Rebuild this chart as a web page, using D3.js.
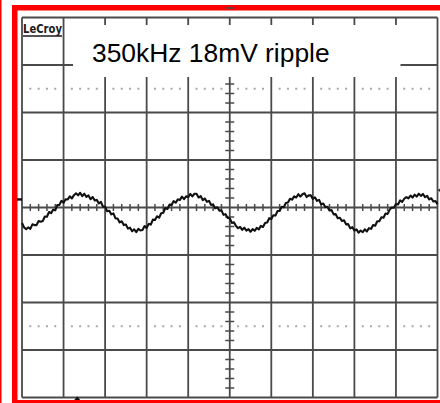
<!DOCTYPE html>
<html>
<head>
<meta charset="utf-8">
<script src="https://cdn.jsdelivr.net/npm/d3@7"></script>
<style>
  html, body { margin: 0; padding: 0; background: #fff; }
  svg { display: block; }
</style>
</head>
<body>
<svg id="scope" width="440" height="403"></svg>
<script>
// Timebase: 1 µs/div over 10 divisions; vertical: 20 mV/div over 8 divisions.
const timeDivs = [0, 1, 2, 3, 4, 5, 6, 7, 8, 9, 10];          // µs
const voltDivs = [-80, -60, -40, -20, 0, 20, 40, 60, 80];      // mV
const dottedRows = [50, -50];                                   // mV
const titleText = "350kHz 18mV ripple";
const brandText = "LeCroy";

// Acquired ripple, one sample every 0.05 µs from 0 to 10 µs (mV).
const rippleStep = 0.05;
const rippleMv = [
  -6.5, -8.4, -9.1, -8.4, -9.0, -7.1, -7.4, -7.4, -5.7, -6.0,
  -5.7, -3.8, -3.9, -1.9, -2.4, -0.9, -1.2, 1.0, 1.1, 2.8,
  2.0, 3.5, 3.4, 4.7, 3.8, 5.2, 6.0, 5.1, 6.2, 4.8,
  5.8, 4.5, 5.1, 3.5, 4.4, 3.0, 3.2, 1.7, 2.4, 0.3,
  0.4, -1.6, -1.4, -2.9, -2.5, -4.6, -4.6, -6.3, -5.8, -7.4,
  -7.2, -8.9, -8.5, -10.0, -9.2, -10.4, -9.0, -9.7, -9.5, -7.8,
  -8.6, -6.9, -7.2, -5.1, -5.3, -3.7, -4.3, -2.4, -2.2, -0.2,
  -0.6, 1.2, 1.1, 2.7, 2.0, 3.4, 3.2, 4.6, 3.5, 4.7,
  4.4, 5.7, 4.7, 5.8, 5.8, 4.2, 4.8, 3.1, 3.8, 2.4,
  2.8, 1.1, 1.3, -0.3, 0.1, -1.3, -1.2, -3.1, -2.8, -4.4,
  -4.5, -6.5, -6.2, -7.8, -8.7, -8.2, -9.4, -8.5, -9.7, -9.1,
  -10.2, -9.1, -9.8, -8.6, -9.2, -7.7, -8.2, -6.5, -6.3, -4.5,
  -4.8, -3.3, -3.4, -1.5, -1.5, 0.3, 0.1, 1.9, 2.1, 3.7,
  3.3, 4.7, 4.2, 5.6, 4.6, 5.6, 6.0, 4.4, 5.1, 5.1,
  3.6, 4.3, 2.8, 3.2, 1.3, 1.7, 0.2, 0.3, -1.2, -1.1,
  -2.9, -2.8, -4.5, -4.3, -5.7, -5.4, -7.1, -7.0, -8.8, -8.3,
  -9.7, -9.2, -10.6, -9.7, -10.4, -9.2, -10.1, -8.7, -9.0, -7.4,
  -7.7, -5.8, -5.8, -4.1, -4.3, -2.5, -2.7, -0.9, 0.0, -0.1,
  1.5, 1.3, 3.0, 2.4, 3.7, 4.4, 3.8, 5.0, 4.2, 5.4,
  4.6, 5.8, 4.9, 5.7, 4.4, 4.9, 3.4, 3.9, 2.5, 2.7, 1.4
];

const svg = d3.select("#scope");
const W = 440, H = 403;
const plot = { left: 22, right: 437.5, top: 17.5, bottom: 397.5 };

const x = d3.scaleLinear().domain([timeDivs[0], timeDivs[timeDivs.length - 1]])
  .range([plot.left, plot.right]);
const y = d3.scaleLinear().domain([voltDivs[0], voltDivs[voltDivs.length - 1]])
  .range([plot.bottom, plot.top]);

const gridColor = "#4a4a4a";
const red = "#ff0000";

// Red frame around the screen capture
svg.append("rect").attr("x", 0).attr("y", 0).attr("width", 1.5).attr("height", H).attr("fill", red);
svg.append("rect").attr("x", 12).attr("y", 5).attr("width", 5.5).attr("height", H - 5).attr("fill", red);
svg.append("rect").attr("x", 12).attr("y", 5).attr("width", W - 12).attr("height", 5.5).attr("fill", red);
svg.append("rect").attr("x", 12).attr("y", 400).attr("width", W - 12).attr("height", 3).attr("fill", red);

const grid = svg.append("g");

// Division grid
grid.selectAll("line.v").data(timeDivs).join("line")
  .attr("x1", d => x(d)).attr("x2", d => x(d))
  .attr("y1", plot.top).attr("y2", plot.bottom)
  .attr("stroke", gridColor).attr("stroke-width", 1.8);
grid.selectAll("line.h").data(voltDivs).join("line")
  .attr("x1", plot.left).attr("x2", plot.right)
  .attr("y1", d => y(d)).attr("y2", d => y(d))
  .attr("stroke", gridColor).attr("stroke-width", 1.8);

// Minor subdivisions (5 per division)
const tMinor = d3.range(0, 50 + 1).map(i => i / 5).filter(t => Math.abs(t - Math.round(t)) > 1e-6);
const vMinor = d3.range(-40, 40 + 1).map(i => i * 4).filter(v => v % 20 !== 0);

// Dotted reference rows
dottedRows.forEach(v => {
  grid.selectAll(null).data(tMinor.filter(t => Math.abs(t - 5) > 1e-6)).join("rect")
    .attr("x", d => x(d) - 1).attr("y", y(v) - 1)
    .attr("width", 2).attr("height", 2)
    .attr("fill", "#a8a8a8");
});

// Tick marks along the centre axes
grid.selectAll(null).data(tMinor).join("line")
  .attr("x1", d => x(d)).attr("x2", d => x(d))
  .attr("y1", y(0) - 3.5).attr("y2", y(0) + 3.5)
  .attr("stroke", gridColor).attr("stroke-width", 1.5);
grid.selectAll(null).data(vMinor).join("line")
  .attr("x1", x(5) - 4.5).attr("x2", x(5) + 4.5)
  .attr("y1", d => y(d)).attr("y2", d => y(d))
  .attr("stroke", gridColor).attr("stroke-width", 1.5);

// Ripple trace
const line = d3.line()
  .x((d, i) => x(i * rippleStep))
  .y(d => y(d));
svg.append("path").datum(rippleMv)
  .attr("d", line)
  .attr("fill", "none")
  .attr("stroke", "#111")
  .attr("stroke-width", 2.1)
  .attr("stroke-linejoin", "round");

// Title panel
svg.append("rect").attr("x", 73).attr("y", 25).attr("width", 327.5).attr("height", 52).attr("fill", "#fff");
svg.append("text").attr("x", 92).attr("y", 62)
  .attr("font-family", "Liberation Sans, Arial, sans-serif")
  .attr("font-size", 26.4).attr("fill", "#000")
  .text(titleText);

// Brand label
svg.append("text").attr("x", 23).attr("y", 33)
  .attr("font-family", "DejaVu Sans Condensed, DejaVu Sans, sans-serif")
  .attr("font-weight", "bold").attr("font-size", 13)
  .attr("textLength", 39).attr("lengthAdjust", "spacingAndGlyphs")
  .attr("fill", "#1a1a1a")
  .text(brandText);
svg.append("line").attr("x1", 23).attr("x2", 62).attr("y1", 36).attr("y2", 36)
  .attr("stroke", "#1a1a1a").attr("stroke-width", 1.3);

// Channel and trigger markers
svg.append("path")
  .attr("d", `M17,${y(3.4) - 1.2} L22,${y(3.4) - 1.2} L22,${y(3.4) + 1.2} L17,${y(3.4) + 1.2} Z`)
  .attr("fill", "#111");
svg.append("path")
  .attr("d", `M${x(1.33) - 3},${plot.bottom + 2.5} L${x(1.33)},${plot.bottom - 1} L${x(1.33) + 3},${plot.bottom + 2.5} Z`)
  .attr("fill", "#111");
svg.append("path")
  .attr("d", `M${plot.right},${y(7.4)} L440,${y(7.4) - 1.5} L440,${y(7.4) + 2} Z`)
  .attr("fill", "#333");
</script>
</body>
</html>
